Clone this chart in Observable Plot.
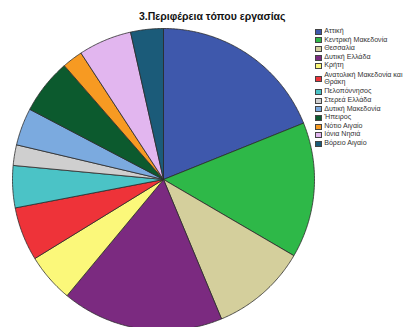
<!DOCTYPE html>
<html><head><meta charset="utf-8">
<script src="https://cdn.jsdelivr.net/npm/d3@7"></script>
<script src="https://cdn.jsdelivr.net/npm/@observablehq/plot@0.6"></script>
<style>
body{margin:0;background:#fff;font-family:"Liberation Sans",Arial,sans-serif}
#wrap{position:relative;width:403px;height:327px;overflow:hidden;background:#fff}
#chart{position:absolute;left:0;top:0}
#title{position:absolute;left:139px;top:10px;font-size:10.5px;font-weight:bold;color:#111;white-space:nowrap}
#legend{position:absolute;left:315px;top:0px;font-size:7.1px;color:#333}
.it{position:absolute;left:0;white-space:nowrap;display:flex;align-items:center}
.sw{width:4.6px;height:4px;border:0.6px solid #444;flex:none;margin-right:2.6px}
.tx{line-height:7.4px}
</style></head>
<body><div id="wrap"><div id="chart"></div><div id="title">3.Περιφέρεια τόπου εργασίας</div><div id="legend"></div></div>
<script>
const regions = ["Αττική","Κεντρική Μακεδονία","Θεσσαλία","Δυτική Ελλάδα","Κρήτη","Ανατολική Μακεδονία και Θράκη","Πελοπόννησος","Στερεά Ελλάδα","Δυτική Μακεδονία","Ήπειρος","Νότιο Αιγαίο","Ιόνια Νησιά","Βόρειο Αιγαίο"];
const legendLabels = ["Αττική","Κεντρική Μακεδονία","Θεσσαλία","Δυτική Ελλάδα","Κρήτη","Ανατολική Μακεδονία και<br>Θράκη","Πελοπόννησος","Στερεά Ελλάδα","Δυτική Μακεδονία","Ήπειρος","Νότιο Αιγαίο","Ιόνια Νησιά","Βόρειο Αιγαίο"];
const values = [18.9, 14.5, 10.3, 17.3, 5.2, 5.75, 4.5, 2.2, 4.0, 5.9, 2.2, 5.7, 3.5];
const colors = ["#3E58AC","#2EB848","#D4CF9C","#7B2A80","#FBF87A","#EE3339","#4BC3C6","#CFCFCF","#7BAADF","#0C5A2E","#F79A22","#E2B6EF","#1B5B79"];

const arcs = d3.pie().sort(null).startAngle(0).endAngle(2*Math.PI)(values);
const pts = [];
arcs.forEach((s,i)=>{
  const k = regions[i];
  pts.push({k, x:0, y:0});
  const n = Math.max(2, Math.ceil((s.endAngle - s.startAngle)/0.01));
  for (let j=0;j<=n;j++){
    const a = s.startAngle + (s.endAngle - s.startAngle)*j/n;
    pts.push({k, x:Math.sin(a), y:Math.cos(a)});
  }
  pts.push({k, x:0, y:0});
});

const chart = Plot.plot({
  width:403, height:327, margin:0,
  style:{background:"transparent"},
  x:{domain:[-1,1], range:[12,314], axis:null},
  y:{domain:[-1,1], range:[330,28], axis:null},
  color:{domain:regions, range:colors},
  marks:[
    Plot.line(pts, {x:"x", y:"y", z:"k", fill:"k", stroke:"#2a2a2a", strokeWidth:0.8, curve:"linear"})
  ]
});
document.getElementById("chart").appendChild(chart);

const lg = document.getElementById("legend");
const slot = 8.62;
let s = 0;
legendLabels.forEach((l,i)=>{
  const n = l.includes("<br>") ? 2 : 1;
  const d = document.createElement("div");
  d.className="it";
  d.style.top = (27.4 + s*slot) + "px";
  d.style.height = (n*slot) + "px";
  d.innerHTML = `<span class="sw" style="background:${colors[i]}"></span><span class="tx">${l}</span>`;
  lg.appendChild(d);
  s += n;
});
</script>
</body></html>
